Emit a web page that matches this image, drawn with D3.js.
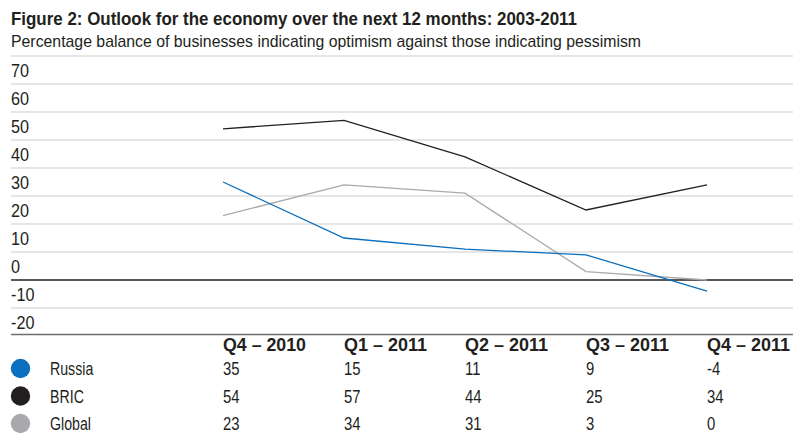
<!DOCTYPE html>
<html>
<head>
<meta charset="utf-8">
<script src="https://cdn.jsdelivr.net/npm/d3@7"></script>
<style>
  html, body { margin: 0; padding: 0; background: #fff; }
  svg { display: block; }
  text { font-family: "Liberation Sans", Arial, sans-serif; fill: #231f20; }
</style>
</head>
<body>
<svg id="chart" width="804" height="434"></svg>
<script>
// Quarterly survey periods
const quarters = ["Q4 – 2010", "Q1 – 2011", "Q2 – 2011", "Q3 – 2011", "Q4 – 2011"];

// Percentage balance (optimists minus pessimists)
const russia = [35, 15, 11, 9, -4];
const bric = [54, 57, 44, 25, 34];
const global = [23, 34, 31, 3, 0];

const seriesNames = ["Russia", "BRIC", "Global"];
const seriesColors = ["#0a6fbe", "#231f20", "#a7a9ac"];

// Y axis tick values
const yTicks = [70, 60, 50, 40, 30, 20, 10, 0, -10, -20];

const title = "Figure 2: Outlook for the economy over the next 12 months: 2003-2011";
const subtitle = "Percentage balance of businesses indicating optimism against those indicating pessimism";

const series = [russia, bric, global].map((values, i) => ({
  name: seriesNames[i], color: seriesColors[i], values
}));

const svg = d3.select("#chart");
const left = 11, right = 793;

const x = d3.scalePoint().domain(quarters).range([223, 707]);
const y = d3.scaleLinear().domain([-20, 80]).range([336, 56]);

// Condensed look: squeeze glyphs horizontally by a fixed factor
function condense(sel, k) {
  sel.each(function() {
    const w = this.getComputedTextLength();
    d3.select(this).attr("textLength", w * k).attr("lengthAdjust", "spacingAndGlyphs");
  });
}
function fitWidth(sel, w) {
  sel.attr("textLength", w).attr("lengthAdjust", "spacingAndGlyphs");
}

// Title and subtitle
svg.append("text").attr("x", left).attr("y", 25)
  .attr("font-size", 18.5).attr("font-weight", "bold").text(title)
  .call(fitWidth, 566);
svg.append("text").attr("x", left).attr("y", 47)
  .attr("font-size", 17).text(subtitle)
  .call(fitWidth, 630);

// Horizontal gridlines, including the top border at 80
const gridVals = [80].concat(yTicks.filter(v => v !== 0 && v !== -20));
svg.append("g").selectAll("line").data(gridVals).join("line")
  .attr("x1", left).attr("x2", right)
  .attr("y1", d => y(d)).attr("y2", d => y(d))
  .attr("stroke", "#dedede").attr("stroke-width", 1.5);

// Tick labels sit just above their gridline
svg.append("g").selectAll("text").data(yTicks).join("text")
  .attr("x", left).attr("y", d => y(d) - 7.5)
  .attr("font-size", 18)
  .text(d => d)
  .call(condense, 0.9);

// Zero line and bottom axis line
svg.append("line").attr("x1", left).attr("x2", right)
  .attr("y1", y(0)).attr("y2", y(0))
  .attr("stroke", "#231f20").attr("stroke-width", 1.3);
svg.append("line").attr("x1", left).attr("x2", right)
  .attr("y1", y(-20) - 1.5).attr("y2", y(-20) - 1.5)
  .attr("stroke", "#6d6e71").attr("stroke-width", 1.5);

// Series lines (Global drawn first, Russia on top)
const line = d3.line().x((d, i) => x(quarters[i])).y(d => y(d));
svg.append("g").selectAll("path").data(series.slice().reverse()).join("path")
  .attr("d", d => line(d.values))
  .attr("fill", "none")
  .attr("stroke", d => d.color)
  .attr("stroke-width", 1.3);

// Data table: column headers
svg.append("g").selectAll("text").data(quarters).join("text")
  .attr("x", d => x(d)).attr("y", 351)
  .attr("font-size", 17.5).attr("font-weight", "bold")
  .text(d => d)
  .call(fitWidth, 83);

// Data table rows with legend swatches
const rowY = [375, 402.5, 430];
const rows = svg.append("g").selectAll("g").data(series).join("g");
rows.append("circle")
  .attr("cx", 20.5).attr("cy", (d, i) => rowY[i] - 6.5)
  .attr("r", 9.7).attr("fill", d => d.color);
rows.append("text")
  .attr("x", 50).attr("y", (d, i) => rowY[i])
  .attr("font-size", 17.5).text(d => d.name)
  .call(condense, 0.81);
rows.each(function(d, i) {
  d3.select(this).selectAll("text.val").data(d.values).join("text")
    .attr("class", "val")
    .attr("x", (v, j) => x(quarters[j])).attr("y", rowY[i])
    .attr("font-size", 17.5).text(v => v)
    .call(condense, 0.85);
});
</script>
</body>
</html>
